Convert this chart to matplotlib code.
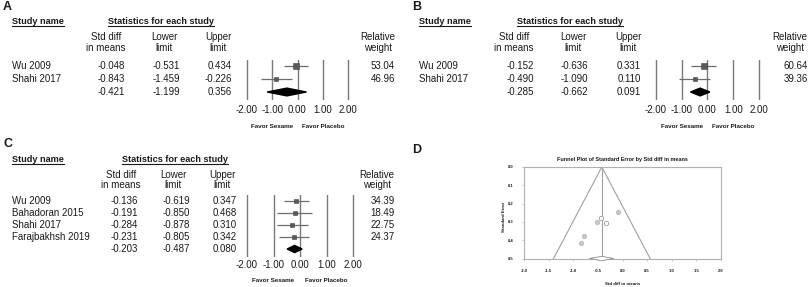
import matplotlib
matplotlib.use('Agg')
import matplotlib.pyplot as plt
import matplotlib.transforms as mtransforms
from matplotlib.lines import Line2D
import numpy as np

plt.rcParams['font.family'] = ['Liberation Sans', 'DejaVu Sans']

# panel A / B / C forest data
a_names = ['Wu 2009', 'Shahi 2017']
a_est = [-0.048, -0.843]
a_lo = [-0.531, -1.459]
a_hi = [0.434, -0.226]
a_wt = [53.04, 46.96]
a_sum = [-0.421, -1.199, 0.356]

b_names = ['Wu 2009', 'Shahi 2017']
b_est = [-0.152, -0.490]
b_lo = [-0.636, -1.090]
b_hi = [0.331, 0.110]
b_wt = [60.64, 39.36]
b_sum = [-0.285, -0.662, 0.091]

c_names = ['Wu 2009', 'Bahadoran 2015', 'Shahi 2017', 'Farajbakhsh 2019']
c_est = [-0.136, -0.191, -0.284, -0.231]
c_lo = [-0.619, -0.850, -0.878, -0.805]
c_hi = [0.347, 0.468, 0.310, 0.342]
c_wt = [34.39, 18.49, 22.75, 24.37]
c_sum = [-0.203, -0.487, 0.080]

forest_ticks = [-2, -1, 0, 1, 2]

# panel D funnel data
fun_x = [-0.096, -0.43, -0.517, -0.333, -0.776, -0.843]
fun_se = [0.245, 0.278, 0.298, 0.306, 0.378, 0.417]
fun_filled = [1, 0, 1, 0, 1, 1]
fun_center = -0.42
fun_diamond = [-0.67, -0.42, -0.18]

W, H = 811, 287
fig = plt.figure(figsize=(W / 100, H / 100), dpi=100)
TXT = '#1a1a1a'
FS = 7.0
FSB = 6.6


def fx(x):
    return x / W


def fy(y):
    return 1 - y / H


def put(x, y, s, **kw):
    kw.setdefault('color', TXT)
    kw.setdefault('fontsize', FS)
    return fig.text(fx(x), fy(y), s, va='center', **kw)


underlined = []


def forest(letter, names, est, lo, hi, wt, summ, L):
    put(L['label'][0], L['label'][1], letter, fontsize=9, fontweight='bold')
    underlined.append(put(L['name_x'], L['head_y'], 'Study name', fontsize=FSB, fontweight='bold'))
    underlined.append(put(L['stats_x'], L['head_y'], 'Statistics for each study',
                          fontsize=FSB, fontweight='bold'))
    heads = [('Std diff', 'in means'), ('Lower', 'limit'), ('Upper', 'limit')]
    for (h1, h2), cx in zip(heads, L['centers']):
        put(cx, L['sub'][0], h1, ha='center')
        put(cx, L['sub'][1], h2, ha='center')
    put(L['wcenter'], L['sub'][0], 'Relative', ha='center')
    put(L['wcenter'], L['sub'][1], 'weight', ha='center')

    n = len(names)
    for i in range(n):
        y = L['row0'] + i * L['dy']
        put(L['name_x'], y, names[i], ha='left')
        for v, rx in zip([est[i], lo[i], hi[i]], L['rights']):
            put(rx, y, f'{v:.3f}', ha='right')
        put(L['wright'], y, f'{wt[i]:.2f}', ha='right')
    ys = L['row0'] + n * L['dy']
    for v, rx in zip(summ, L['rights']):
        put(rx, ys, f'{v:.3f}', ha='right')

    # forest axes
    xl, xr = L['xl'], L['xr']
    unit = (xr - xl) / 4.0
    left = xl - 0.1 * unit
    width = 4.2 * unit
    ytop, ybot = L['ytop'], L['ybot']
    ax = fig.add_axes([fx(left), fy(ybot), width / W, (ybot - ytop) / H])
    ax.set_xlim(-2.1, 2.1)
    ax.set_ylim((ybot - L['row0']) / L['dy'], (ytop - L['row0']) / L['dy'])
    for s in ax.spines.values():
        s.set_visible(False)
    ax.patch.set_alpha(0)
    for t in forest_ticks:
        ax.axvline(t, color='#7a7a7a', lw=1.0, zorder=1)
    ax.set_yticks([])
    ax.set_xticks(forest_ticks)
    ax.set_xticklabels([f'{t:.2f}' for t in forest_ticks], fontsize=FS, color=TXT)
    ax.tick_params(axis='x', length=0, pad=(L['ytick'] - ybot - 5) * 0.72)
    rows = np.arange(n)
    ax.hlines(rows, lo, hi, color='#6e6e6e', lw=0.9, zorder=2)
    for i in range(n):
        ax.plot(est[i], rows[i], marker='s', ms=2.0 + 3.2 * wt[i] / 100,
                color='#5a5a5a', mec='#444444', mew=0.4, zorder=3)
    e, l, h = summ
    ax.fill([l, e, h, e], [n, n - 0.3, n, n + 0.3], color='black', zorder=3)

    tr = mtransforms.blended_transform_factory(ax.transData, fig.transFigure)
    ax.text(-1, fy(L['favor_y']), 'Favor Sesame', transform=tr, ha='center',
            va='center', fontsize=4.5, fontweight='bold', color=TXT)
    ax.text(1, fy(L['favor_y']), 'Favor Placebo', transform=tr, ha='center',
            va='center', fontsize=4.5, fontweight='bold', color=TXT)


forest('A', a_names, a_est, a_lo, a_hi, a_wt, a_sum, dict(
    label=(3, 7), name_x=12, head_y=21, stats_x=108, centers=[106, 164, 218],
    rights=[125, 180, 232], wcenter=378, wright=395, sub=(37, 48), row0=66, dy=13,
    xl=247, xr=348, ytop=60, ybot=100, ytick=110, favor_y=127))

forest('B', b_names, b_est, b_lo, b_hi, b_wt, b_sum, dict(
    label=(412, 7), name_x=419, head_y=21, stats_x=517, centers=[514, 573, 628],
    rights=[534, 588, 641], wcenter=790, wright=808, sub=(37, 48), row0=66, dy=13,
    xl=656, xr=759, ytop=60, ybot=100, ytick=110, favor_y=127))

forest('C', c_names, c_est, c_lo, c_hi, c_wt, c_sum, dict(
    label=(3, 144), name_x=12, head_y=159, stats_x=122, centers=[121, 173, 222],
    rights=[138, 190, 237], wcenter=377, wright=395, sub=(175, 185), row0=201, dy=12,
    xl=247, xr=353, ytop=195, ybot=257, ytick=265, favor_y=280))

# panel D: funnel plot
put(412, 150, 'D', fontsize=9, fontweight='bold')
fl, fr, ft, fb = 524, 721, 167, 258.5
axd = fig.add_axes([fx(fl), fy(fb), (fr - fl) / W, (fb - ft) / H])
axd.set_xlim(-2, 2)
axd.set_ylim(0.5, 0)
for s in axd.spines.values():
    s.set_color('#b0b0b0')
    s.set_linewidth(0.8)
se_max = 0.5
axd.plot([fun_center - 1.96 * se_max, fun_center, fun_center + 1.96 * se_max],
         [se_max, 0, se_max], color='#a0a0a0', lw=0.8, clip_on=False)
axd.plot([fun_center, fun_center], [0, se_max], color='#a0a0a0', lw=0.8)
for x, s, f in zip(fun_x, fun_se, fun_filled):
    axd.plot(x, s, 'o', ms=3.2, mfc='#c8c8c8' if f else 'white',
             mec='#b4b4b4' if f else '#8c8c8c', mew=0.5)
dl, dc, dh = fun_diamond
axd.fill([dl, dc, dh, dc], [se_max, se_max - 0.012, se_max, se_max + 0.012],
         facecolor='white', edgecolor='#8c8c8c', lw=0.6, clip_on=False, zorder=4)
axd.set_xticks(np.arange(-2, 2.01, 0.5))
axd.set_xticklabels([f'{v:.1f}' for v in np.arange(-2, 2.01, 0.5)])
axd.set_yticks(np.arange(0, 0.51, 0.1))
axd.set_yticklabels([f'{v:.1f}' for v in np.arange(0, 0.51, 0.1)])
axd.tick_params(labelsize=3, length=1.2, width=0.5, color='#b0b0b0', pad=6, labelcolor=TXT)
for lab in axd.get_xticklabels() + axd.get_yticklabels():
    lab.set_fontweight('bold')
axd.set_title('Funnel Plot of Standard Error by Std diff in means', fontsize=4.0,
              fontweight='bold', color=TXT, pad=4)
axd.set_xlabel('Std diff in means', fontsize=3.2, fontweight='bold', color=TXT)
axd.set_ylabel('Standard Error', fontsize=3.2, fontweight='bold', color=TXT)
axd.xaxis.set_label_coords(0.5, -0.257)
axd.yaxis.set_label_coords(-0.091, 0.45)

# underline bold headers
renderer = fig.canvas.get_renderer()
for t in underlined:
    bb = t.get_window_extent(renderer)
    y0 = (bb.y0 - 0.5) / fig.bbox.height
    fig.add_artist(Line2D([bb.x0 / fig.bbox.width, bb.x1 / fig.bbox.width], [y0, y0],
                          transform=fig.transFigure, color=TXT, lw=0.8))

fig.savefig('out.png', dpi=100)
